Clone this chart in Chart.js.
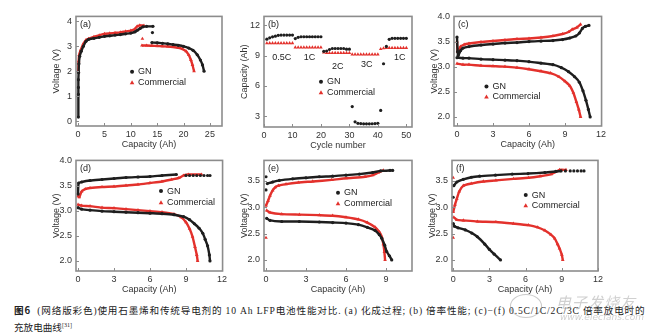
<!DOCTYPE html>
<html lang="zh">
<head>
<meta charset="utf-8">
<script src="https://cdn.jsdelivr.net/npm/chart.js@4.4.1/dist/chart.umd.min.js"></script>
<style>
html, body { margin: 0; padding: 0; background: #fff; }
body { width: 652px; height: 334px; position: relative; overflow: hidden; }
canvas { position: absolute; }
.cap { position: absolute; left: 14px; white-space: nowrap; color: #222;
       font: 9.6px "Liberation Serif", "Noto Sans CJK SC", serif; }
.cap b { font-family: "Noto Sans CJK SC", sans-serif; font-weight: 700; }
.cap sup { font-size: 6px; }
#wm1 { position: absolute; left: 556px; top: 291px; font: italic 15px "Noto Sans CJK SC", sans-serif;
       color: rgba(150,150,150,0.45); letter-spacing: 1px; }
#wm2 { position: absolute; left: 560px; top: 312px; font: italic 9px "DejaVu Sans", sans-serif;
       color: rgba(150,150,150,0.45); }
#wmc { position: absolute; left: 510px; top: 294px; width: 30px; height: 22px; border-radius: 50%;
       border: 1px solid rgba(150,150,150,0.5); }
</style>
</head>
<body>
<canvas id="pa"></canvas>
<canvas id="pb"></canvas>
<canvas id="pc"></canvas>
<canvas id="pd"></canvas>
<canvas id="pe"></canvas>
<canvas id="pf"></canvas>
<div class="cap" id="line1" style="top:303px"><b>图6</b>&nbsp;&nbsp;(网络版彩色)使用石墨烯和传统导电剂的 10 Ah LFP电池性能对比. (a) 化成过程; (b) 倍率性能; (c)−(f) 0.5C/1C/2C/3C 倍率放电时的</div>
<div class="cap" id="line2" style="top:320px">充放电曲线<sup>[31]</sup></div>
<div id="wmc"></div>
<div id="wm1">电子发烧友</div>
<div id="wm2">www.elecfans.com</div>
<script>
// ===== 数据 (容量 Ah, 电压 V) =====
// (a) 化成过程
const aGnCharge = [[0.05,0.16],[0.05,1.07],[0.05,1.35],[0.05,1.66],[0.1,1.94],[0.15,2.3],[0.3,2.6],[0.6,2.8],[1.0,3.0],[1.5,3.2],[2.0,3.28],[3,3.32],[4,3.36],[5,3.4],[6,3.42],[7,3.45],[8,3.47],[9,3.5],[10,3.53],[10.8,3.58],[11.3,3.65],[11.8,3.72],[12.3,3.78],[13,3.8],[14.2,3.8]];
const aComCharge = [[0.05,2.0],[0.1,2.4],[0.2,2.65],[0.5,2.85],[1,3.1],[1.5,3.25],[2,3.3],[3,3.38],[4,3.44],[5,3.5],[6,3.52],[7,3.54],[8,3.56],[9,3.6],[10,3.63],[10.7,3.68],[11.2,3.8],[11.7,3.84],[12.5,3.83]];
const aGnDis = [[14.0,3.15],[15,3.14],[16,3.12],[17,3.1],[18,3.07],[19,3.04],[20,3.0],[21,2.93],[21.8,2.84],[22.6,2.66],[23.2,2.45],[23.6,2.25],[23.9,2.0]];
const aComDis = [[12.1,3.03],[13,3.03],[14,3.02],[15,3.01],[16,3.0],[17,2.99],[18,2.97],[19,2.94],[19.8,2.89],[20.5,2.8],[21.0,2.65],[21.4,2.45],[21.7,2.25],[22.0,2.0]];
const aGnStray = [[14.1,3.55]];
const aComStray = [[12.2,3.3]];
const aTicksX = [0, 5, 10, 15, 20, 25];
const aTicksY = [0, 1, 2, 3, 4];

// (b) 倍率性能
const bCycles = [1,2,3,4,5,6,7,8,9,10,11,12,13,14,15,16,17,18,19,20,21,22,23,24,25,26,27,28,29,30,31,32,33,34,35,36,37,38,39,40,41,42,43,44,45,46,47,48,49,50];
const bGn = [10.62,10.75,10.85,10.92,11.0,11.02,11.02,11.02,11.02,11.02,
             10.68,10.8,10.86,10.86,10.86,10.86,10.86,10.86,10.86,10.86,
             9.42,9.45,9.6,9.7,9.7,9.7,9.7,9.7,9.63,9.63,
             3.96,2.45,2.3,2.28,2.25,2.25,2.25,2.26,2.28,2.3,
             3.58,8.19,9.9,10.6,10.7,10.7,10.7,10.7,10.7,10.7];
const bCom = [10.22,10.22,10.22,10.22,10.22,10.22,10.22,10.22,10.22,10.22,
              9.8,9.8,9.8,9.8,9.8,9.8,9.8,9.8,9.8,9.8,
              9.3,9.27,9.27,9.27,9.27,9.27,9.27,9.27,9.27,9.27,
              9.12,9.12,9.12,9.12,9.12,9.12,9.12,9.12,9.12,9.12,
              9.65,9.72,9.75,9.75,9.75,9.75,9.75,9.75,9.75,9.75];
const bStageNames = ['0.5C', '1C', '2C', '3C', '1C'];
const bTicksX = [0, 10, 20, 30, 40, 50];
const bTicksY = [3, 6, 9, 12];

// (c) 0.5C
const cGnCharge = [[0.0,3.59],[0.05,3.3],[0.1,3.22],[0.3,3.32],[0.5,3.37],[1,3.4],[2,3.43],[3,3.45],[4,3.47],[5,3.48],[6,3.5],[7,3.51],[8,3.52],[8.8,3.54],[9.4,3.57],[9.9,3.61],[10.2,3.67],[10.45,3.76],[10.7,3.8],[11.0,3.82]];
const cComCharge = [[0.0,3.5],[0.05,3.3],[0.15,3.3],[0.3,3.4],[0.6,3.44],[1,3.46],[2,3.49],[3,3.51],[4,3.53],[5,3.55],[6,3.56],[7,3.58],[8,3.61],[8.8,3.65],[9.3,3.69],[9.6,3.74],[10.0,3.78],[10.3,3.84]];
const cGnDis = [[0.0,3.18],[0.5,3.17],[1,3.17],[2,3.15],[3,3.14],[4,3.13],[5,3.12],[6,3.1],[7,3.07],[8,3.04],[8.7,2.98],[9.3,2.9],[9.8,2.8],[10.2,2.69],[10.5,2.52],[10.75,2.33],[10.95,2.15],[11.1,2.0]];
const cComDis = [[0.0,3.06],[0.5,3.04],[1,3.04],[2,3.02],[3,3.01],[4,3.0],[5,2.98],[6,2.95],[7,2.91],[7.8,2.87],[8.5,2.8],[9.0,2.71],[9.4,2.62],[9.7,2.48],[9.95,2.3],[10.15,2.15],[10.3,2.0]];

// (d) 1C
const dGnCharge = [[0.0,3.33],[0.05,3.55],[0.3,3.57],[1,3.6],[2,3.62],[3,3.64],[4,3.66],[5,3.67],[6,3.68],[7,3.7],[8.2,3.72]];
const dGnTail = [[9.0,3.7],[9.3,3.7],[9.6,3.7],[9.9,3.7],[10.2,3.7],[10.5,3.7],[10.8,3.7],[11.0,3.7]];
const dComCharge = [[0.0,3.29],[0.1,3.27],[0.3,3.38],[0.6,3.43],[1,3.45],[2,3.47],[3,3.48],[4,3.5],[5,3.52],[6,3.55],[7,3.58],[7.8,3.62],[8.4,3.65],[8.8,3.7],[9.2,3.72],[10.3,3.72]];
const dGnDis = [[0.0,3.06],[0.3,3.03],[1,3.01],[2,2.99],[3,2.98],[4,2.97],[5,2.96],[6,2.95],[7,2.94],[8,2.92],[8.8,2.88],[9.3,2.82],[9.7,2.74],[10.1,2.65],[10.4,2.55],[10.6,2.43],[10.8,2.3],[10.95,2.12],[11.0,2.0]];
const dComDis = [[0.0,3.12],[0.3,3.1],[1,3.09],[2,3.06],[3,3.05],[4,3.03],[5,3.01],[6,2.99],[7,2.97],[8,2.93],[8.6,2.87],[9.0,2.77],[9.3,2.64],[9.55,2.48],[9.75,2.28],[9.9,2.12],[9.97,2.0]];

// (e) 2C
const eGnCharge = [[0.1,3.45],[0.5,3.48],[1,3.51],[2,3.54],[3,3.56],[4,3.58],[5,3.59],[6,3.61],[7,3.63],[8,3.66],[8.6,3.69],[9.3,3.7],[9.5,3.7]];
const eGnStray = [[0.0,3.58],[0.0,3.33]];
const eComCharge = [[0.0,3.03],[0.15,3.12],[0.3,3.22],[0.5,3.32],[0.7,3.38],[0.93,3.41],[1.5,3.44],[2.43,3.47],[3.5,3.49],[4.93,3.52],[6,3.55],[7.43,3.58],[8,3.61],[8.43,3.66],[8.8,3.7]];
const eComStray = [[0.0,2.42]];
const eGnDis = [[0.05,2.79],[0.3,2.75],[1.18,2.73],[2.5,2.73],[4,2.72],[5,2.71],[6,2.7],[6.93,2.67],[7.6,2.62],[8.18,2.56],[8.5,2.48],[8.68,2.41],[8.9,2.28],[9.05,2.16],[9.25,2.08],[9.43,2.0]];
const eComDis = [[0.05,2.94],[0.3,2.9],[1.18,2.87],[2.5,2.86],[4,2.85],[5,2.84],[6,2.81],[6.93,2.77],[7.6,2.71],[8.18,2.62],[8.5,2.53],[8.68,2.44],[8.8,2.3],[8.88,2.15],[8.93,2.0]];

// (f) 3C
const fGnCharge = [[0.05,3.41],[0.3,3.48],[0.84,3.53],[1.5,3.57],[2.19,3.59],[3.5,3.61],[4.89,3.63],[6.2,3.64],[7.6,3.66],[8.5,3.68],[8.94,3.69]];
const fGnTail = [[9.3,3.69],[9.7,3.69],[10.0,3.69],[10.3,3.69],[10.6,3.69],[10.84,3.69]];
const fGnStray = [[0.0,3.19]];
const fComCharge = [[0.0,2.91],[0.15,3.05],[0.3,3.16],[0.5,3.3],[0.84,3.41],[1.5,3.45],[2.5,3.49],[3.54,3.51],[5,3.54],[6.24,3.56],[7.2,3.59],[8.13,3.63],[8.5,3.67],[8.81,3.71],[9.35,3.71]];
const fComStray = [[0.0,3.56],[0.0,2.42]];
const fGnDis = [[0.0,2.69],[0.1,2.64],[0.4,2.61],[1.0,2.57],[1.54,2.51],[2.0,2.44],[2.62,2.3],[3.0,2.2],[3.4,2.11],[3.92,2.0]];
const fComDis = [[0.05,2.81],[0.3,2.76],[0.84,2.75],[2,2.73],[3.54,2.72],[5,2.69],[6.24,2.66],[7,2.62],[7.6,2.56],[8.1,2.48],[8.41,2.41],[8.65,2.3],[8.81,2.22],[9.0,2.1],[9.08,2.0]];

const vTicksX = [0, 3, 6, 9, 12];
const vTicksY = [2.0, 2.5, 3.0, 3.5, 4.0];

// ===== 样式 =====
const FONT = '"Liberation Sans", Arial, sans-serif';
const GN_COLOR = '#1e1e1e';
const COM_COLOR = '#e3312c';
const FRAME = '#8c8c8c';

// 面板装饰: 边框, 内向刻度, 标号, 图例, 倍率标注
const panelDeco = {
    id: 'panelDeco',
    afterDraw(chart, args, opts) {
        const { ctx, chartArea: a, scales } = chart;
        ctx.save();
        ctx.strokeStyle = FRAME;
        ctx.lineWidth = 1;
        scales.x.ticks.forEach(t => {
            const px = Math.round(scales.x.getPixelForValue(t.value)) + 0.5;
            ctx.beginPath(); ctx.moveTo(px, a.bottom); ctx.lineTo(px, a.bottom - 3); ctx.stroke();
        });
        scales.y.ticks.forEach(t => {
            const py = Math.round(scales.y.getPixelForValue(t.value)) + 0.5;
            ctx.beginPath(); ctx.moveTo(a.left, py); ctx.lineTo(a.left + 3, py); ctx.stroke();
        });
        ctx.lineWidth = 1.6;
        ctx.strokeRect(a.left, a.top, a.width, a.height);

        ctx.fillStyle = '#222';
        ctx.font = '9px ' + FONT;
        ctx.textBaseline = 'middle';
        ctx.textAlign = 'left';
        ctx.fillText(opts.label, a.left + 4, a.top + 8);

        // 图例
        const lx = a.left + a.width * opts.legendX;
        const items = [
            { y: a.top + a.height * opts.legendY1, text: 'GN', color: GN_COLOR, tri: false },
            { y: a.top + a.height * opts.legendY2, text: 'Commercial', color: COM_COLOR, tri: true }
        ];
        items.forEach(it => {
            ctx.fillStyle = it.color;
            ctx.beginPath();
            if (it.tri) {
                ctx.moveTo(lx, it.y - 2.4); ctx.lineTo(lx + 2.3, it.y + 1.6); ctx.lineTo(lx - 2.3, it.y + 1.6);
                ctx.closePath();
            } else {
                ctx.arc(lx, it.y, 2, 0, Math.PI * 2);
            }
            ctx.fill();
            ctx.fillStyle = '#222';
            ctx.fillText(it.text, lx + 6, it.y);
        });

        // 倍率标注 (仅 b 图)
        if (opts.stages) {
            ctx.textAlign = 'center';
            opts.stages.forEach((s, i) => {
                ctx.fillText(bStageNames[i], scales.x.getPixelForValue(s[0]), scales.y.getPixelForValue(s[1]));
            });
        }
        ctx.restore();
    }
};

function series(points, isCom, showLine) {
    const color = isCom ? COM_COLOR : GN_COLOR;
    return {
        data: points.map(p => ({ x: p[0], y: p[1] })),
        showLine: showLine,
        borderColor: color,
        backgroundColor: color,
        borderWidth: 2.4,
        tension: 0.2,
        pointStyle: isCom ? 'triangle' : 'circle',
        pointRadius: isCom ? 2.1 : 1.6,
        pointBorderWidth: 0,
        clip: false
    };
}

function axis(range, tickVals, title, digits, isX) {
    return {
        type: 'linear',
        min: range[0],
        max: range[1],
        afterBuildTicks: s => { s.ticks = tickVals.map(v => ({ value: v })); },
        afterFit: s => { if (isX) s.height = 28; else s.width = 30; },
        grid: { display: false, drawTicks: false },
        border: { display: false },
        ticks: {
            autoSkip: false,
            maxRotation: 0,
            padding: isX ? 3 : 4,
            color: '#333',
            font: { size: 9, family: FONT },
            callback: v => digits ? Number(v).toFixed(digits) : String(v)
        },
        title: {
            display: true,
            text: title,
            color: '#333',
            font: { size: 9, family: FONT },
            padding: isX ? { top: 0, bottom: 4 } : { top: 5, bottom: 0 }
        }
    };
}

// 面板: 绘图区在页面中的位置 [左, 上, 右, 下]
function makePanel(id, area, datasets, xr, yr, xt, yt, xTitle, yTitle, yDigits, deco) {
    const cv = document.getElementById(id);
    const w = area[2] - area[0] + 36, h = area[3] - area[1] + 36;
    cv.width = w; cv.height = h;
    cv.style.left = (area[0] - 30) + 'px';
    cv.style.top = (area[1] - 8) + 'px';
    cv.style.width = w + 'px'; cv.style.height = h + 'px';
    try {
        new Chart(cv.getContext('2d'), {
            type: 'scatter',
            data: { datasets: datasets },
            options: {
                responsive: false,
                animation: false,
                devicePixelRatio: 1,
                layout: { padding: { top: 8, right: 6, left: 0, bottom: 0 } },
                scales: {
                    x: axis(xr, xt, xTitle, 0, true),
                    y: axis(yr, yt, yTitle, yDigits, false)
                },
                plugins: { legend: { display: false }, tooltip: { enabled: false }, panelDeco: deco }
            },
            plugins: [panelDeco]
        });
    } catch (e) {
        console.error('面板绘制失败:', id, e);
    }
}

const capTitle = 'Capacity (Ah)', vTitle = 'Voltage (V)';

makePanel('pa', [76, 15, 222, 126], [
    series(aGnCharge, false, true), series(aGnDis, false, true), series(aGnStray, false, false),
    series(aComCharge, true, true), series(aComDis, true, true), series(aComStray, true, false)
], [-0.4, 27.3], [-0.2, 4.2], aTicksX, aTicksY, capTitle, vTitle, 0,
   { label: '(a)', legendX: 0.384, legendY1: 0.505, legendY2: 0.604 });

makePanel('pb', [264, 15, 412, 127], [
    series(bCycles.map((c, i) => [c, bGn[i]]), false, false),
    series(bCycles.map((c, i) => [c, bCom[i]]), true, false)
], [0, 52], [1.94, 12.87], bTicksX, bTicksY, 'Cycle number', capTitle, 0,
   { label: '(b)', legendX: 0.385, legendY1: 0.59, legendY2: 0.69,
     stages: [[6.2, 8.8], [16.0, 8.8], [25.9, 7.93], [36.1, 8.13], [47.7, 8.8]] });

makePanel('pc', [454, 15, 603, 126], [
    series(cGnCharge, false, true), series(cGnDis, false, true),
    series(cComCharge, true, true), series(cComDis, true, true)
], [-0.25, 12.05], [1.82, 4.0], vTicksX, vTicksY, capTitle, vTitle, 1,
   { label: '(c)', legendX: 0.22, legendY1: 0.64, legendY2: 0.735 });

makePanel('pd', [76, 159, 224, 271], [
    series(dGnCharge, false, true), series(dGnTail, false, false), series(dGnDis, false, true),
    series(dComCharge, true, true), series(dComDis, true, true)
], [-0.17, 12.05], [1.8, 4.0], vTicksX, vTicksY, capTitle, vTitle, 1,
   { label: '(d)', legendX: 0.58, legendY1: 0.277, legendY2: 0.381 });

makePanel('pe', [264, 159, 412, 271], [
    series(eGnCharge, false, true), series(eGnStray, false, false), series(eGnDis, false, true),
    series(eComCharge, true, true), series(eComStray, true, false), series(eComDis, true, true)
], [-0.15, 10.95], [1.79, 3.89], vTicksX.slice(0, 4), vTicksY.slice(0, 4), capTitle, vTitle, 1,
   { label: '(e)', legendX: 0.50, legendY1: 0.292, legendY2: 0.39 });

makePanel('pf', [452, 159, 600, 271], [
    series(fGnCharge, false, true), series(fGnTail, false, false), series(fGnStray, false, false), series(fGnDis, false, true),
    series(fComCharge, true, true), series(fComStray, true, false), series(fComDis, true, true)
], [-0.1, 12.0], [1.79, 3.89], vTicksX, vTicksY.slice(0, 4), capTitle, vTitle, 1,
   { label: '(f)', legendX: 0.505, legendY1: 0.313, legendY2: 0.41 });

// 图注第一行拉伸到原图宽度
const l1 = document.getElementById('line1');
const n1 = l1.textContent.length;
const gap = (631 - l1.getBoundingClientRect().width) / n1;
l1.style.letterSpacing = gap.toFixed(2) + 'px';
</script>
</body>
</html>
